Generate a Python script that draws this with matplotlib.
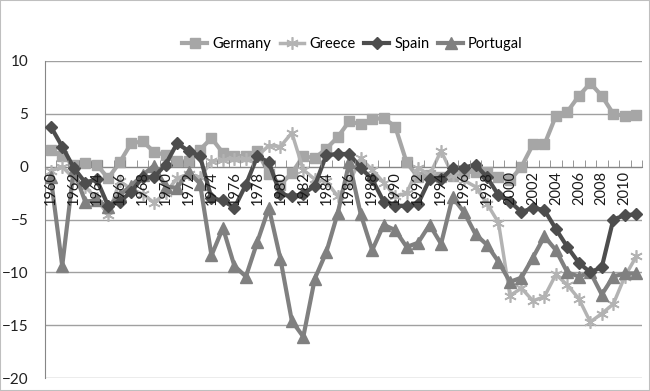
import numpy as np
import matplotlib
matplotlib.use("Agg")
import matplotlib.pyplot as plt
from matplotlib.patches import Rectangle

plt.rcParams['font.family'] = ['Lato', 'DejaVu Sans']

years = list(range(1960, 2012))

germany = [1.6, 1.0, 0.2, 0.3, 0.2, -1.1, 0.4, 2.2, 2.4, 1.4,
           1.1, 0.5, 0.5, 1.6, 2.7, 1.3, 1.0, 1.0, 1.5, -0.7,
           -1.7, -0.6, 1.0, 0.8, 1.7, 2.8, 4.3, 4.0, 4.5, 4.6,
           3.8, 0.4, -1.0, -0.8, -1.0, -0.9, -0.5, -0.5, -0.5, -1.0,
           -1.3, 0.0, 2.1, 2.1, 4.8, 5.2, 6.7, 7.9, 6.7, 5.0,
           4.8, 4.9]
greece = [-0.4, 0.0, -1.1, -1.9, -3.0, -4.6, -1.4, -2.1, -2.6, -3.4,
          -2.5, -1.1, -0.7, -1.0, 0.5, 0.6, 0.7, 0.7, 1.0, 2.0,
          1.9, 3.2, -0.3, -1.2, -1.4, -2.8, -1.5, 0.8, -0.3, -1.5,
          -2.8, -2.5, -0.1, -0.8, 1.5, -0.8, -1.3, -1.9, -3.5, -5.3,
          -12.2, -11.5, -12.7, -12.3, -10.2, -11.2, -12.5, -14.7, -13.9, -13.0,
          -10.4, -8.5]
spain = [3.8, 1.9, -0.1, -1.5, -1.2, -3.7, -3.3, -2.4, -1.0, -1.0,
         0.2, 2.2, 1.5, 1.0, -3.0, -3.2, -3.9, -1.7, 1.0, 0.4,
         -2.6, -2.8, -2.6, -1.8, 1.1, 1.2, 1.2, -0.1, -1.2, -3.3,
         -3.7, -3.7, -3.5, -1.2, -1.2, -0.1, -0.1, 0.2, -1.0, -2.7,
         -3.3, -4.3, -3.9, -4.1, -5.9, -7.6, -9.1, -10.0, -9.5, -5.0,
         -4.6, -4.5]
portugal = [-1.0, -9.4, -0.3, -3.3, -3.2, -3.8, -2.7, -1.8, -0.8, 0.1,
            -1.9, -2.0, -0.5, -1.6, -8.4, -5.8, -9.4, -10.4, -7.1, -3.9,
            -8.7, -14.6, -16.1, -10.6, -8.1, -4.4, 0.4, -4.5, -7.9, -5.5,
            -6.0, -7.6, -7.2, -5.5, -7.3, -2.9, -4.3, -6.4, -7.4, -9.0,
            -10.9, -10.5, -8.6, -6.6, -7.9, -10.0, -10.4, -10.0, -12.1, -10.4,
            -10.1, -10.1]

fig = plt.figure(figsize=(6.5, 3.91), dpi=100)
ax = fig.add_axes([45 / 650, 13 / 391, 597 / 650, 317 / 391])

ax.plot(years, germany, color='#a6a6a6', lw=3, marker='s', ms=7, label='Germany', zorder=3)
ax.plot(years, greece, color='#b3b3b3', lw=2.5, marker=(6, 2, 0), ms=9, mew=1.2,
        label='Greece', zorder=4)
ax.plot(years, spain, color='#4d4d4d', lw=3, marker='D', ms=6, label='Spain', zorder=5)
ax.plot(years, portugal, color='#808080', lw=3, marker='^', ms=8, label='Portugal', zorder=4)

ax.set_xlim(1959.5, 2011.5)
ax.set_ylim(-20, 10)
ax.set_yticks(range(-20, 11, 5))
ax.yaxis.grid(True, color='#a0a0a0', lw=1)
ax.set_axisbelow(True)
ax.tick_params(axis='y', length=0, labelsize=11, pad=12, colors='#202020')

ax.spines['top'].set_visible(False)
ax.spines['right'].set_visible(False)
ax.spines['left'].set_color('#868686')
ax.spines['bottom'].set_position(('data', 0))
ax.spines['bottom'].set_color('#868686')

ax.set_xticks(years[::2])
ax.set_xticklabels([str(y) for y in years[::2]], rotation=90, fontsize=10.5, color='#1a1a1a')
ax.set_xticks(np.arange(1959.5, 2012, 1), minor=True)
ax.tick_params(axis='x', which='major', length=0, pad=3)
ax.tick_params(axis='x', which='minor', length=5, direction='in', color='#868686')
# year labels sit on top of the lines, like in the original
ax.xaxis.set_zorder(10)

ax.legend(loc='lower center', bbox_to_anchor=(0.515, 1.005), ncol=4, frameon=False,
          fontsize=10.5, handlelength=1.7, columnspacing=0.6, handletextpad=0.35,
          borderaxespad=0.2)

fig.patches.append(Rectangle((0, 0), 1, 1, transform=fig.transFigure, fill=False,
                             edgecolor='#bfbfbf', lw=1.5))

fig.savefig('out.png', dpi=100)
